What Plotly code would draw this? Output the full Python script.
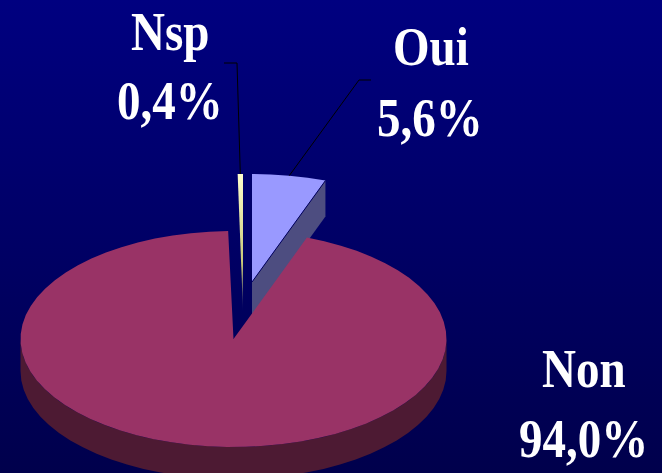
import numpy as np
import plotly.graph_objects as go

# Data
labels = ["Oui", "Non", "Nsp"]
values = [5.6, 94.0, 0.4]

# Drawing set-up (pixel-like axes of the 662x473 page)
W, H = 662, 473
cx, cy, rx, ry = 233.5, 339.0, 213.0, 108.0
start = 0.0
explode = {"Oui": (18.5, -57.0), "Non": (0.0, 0.0), "Nsp": (9.5, -57.0)}
thick = {"Oui": 36.0, "Non": 32.0, "Nsp": 30.0}
top_col = {"Oui": "#9999ff", "Non": "#993366", "Nsp": "#ffffcc"}
wall_col = {"Oui": "#4d4d80", "Non": "#4d1a33"}
label_pos = {"Oui": (431, 46, 430, 117), "Non": (584, 368, 583, 438), "Nsp": (170, 31, 170, 100)}
elbows = {"Oui": [(359, 80), (371, 80)], "Nsp": [(237, 63), (224, 63)]}
STEP = 5.0


def arc(a0, a1, ox=0.0, oy=0.0):
    """Clockwise angles from 12 o'clock, in degrees, to points of the ellipse."""
    n = max(2, int(abs(a1 - a0) / STEP) + 1)
    t = np.radians(np.linspace(a0, a1, n))
    return cx + ox + rx * np.sin(t), cy + oy - ry * np.cos(t)


# Slice angles from the values
total = sum(values)
spans = {}
a = start
for lab, v in zip(labels, values):
    spans[lab] = (a, a + 360 * v / total)
    a += 360 * v / total

fig = go.Figure()

# Background gradient
fig.add_trace(go.Scatter(
    x=[0, W, W, 0, 0], y=[0, 0, H, H, 0], mode="lines", line=dict(width=0),
    fill="toself",
    fillgradient=dict(type="vertical", colorscale=[[0, "#00004c"], [1, "#000080"]]),
    hoverinfo="skip", showlegend=False))

# Oui: wall then top
a0, a1 = spans["Oui"]
ox, oy = explode["Oui"]
ax0, ay0 = cx + ox, cy + oy
ex, ey = arc(a1, a1, ox, oy)
t = thick["Oui"]
fig.add_trace(go.Scatter(
    x=[ax0, ex[0], ex[0], ax0, ax0], y=[ay0, ey[0], ey[0] + t, ay0 + t, ay0],
    mode="lines", line=dict(width=0), fill="toself", fillcolor=wall_col["Oui"],
    hoverinfo="skip", showlegend=False))
xs, ys = arc(a0, a1, ox, oy)
fig.add_trace(go.Scatter(
    x=[ax0, *xs, ax0], y=[ay0, *ys, ay0], mode="lines", line=dict(width=0),
    fill="toself", fillcolor=top_col["Oui"], name="Oui", hoverinfo="name", showlegend=False))
fig.add_trace(go.Scatter(
    x=[ax0, ex[0]], y=[ay0, ey[0]], mode="lines", line=dict(color="#00005a", width=1),
    hoverinfo="skip", showlegend=False))

# Nsp: thin fading sliver
a0, a1 = spans["Nsp"]
ox, oy = explode["Nsp"]
xs, ys = arc(a0, a1, ox, oy)
fig.add_trace(go.Scatter(
    x=[*xs, cx + ox, xs[0]], y=[*ys, cy + oy + thick["Nsp"], ys[0]], mode="lines",
    line=dict(width=0), fill="toself",
    fillgradient=dict(type="vertical",
                      colorscale=[[0, "#000066"], [0.35, "#c8c878"], [1, top_col["Nsp"]]]),
    name="Nsp", hoverinfo="name", showlegend=False))

# Non: wall then top
a0, a1 = spans["Non"]
xs, ys = arc(90, 270)
t = thick["Non"]
fig.add_trace(go.Scatter(
    x=[*xs, *xs[::-1], xs[0]], y=[*ys, *(ys[::-1] + t), ys[0]], mode="lines",
    line=dict(width=0), fill="toself", fillcolor=wall_col["Non"],
    hoverinfo="skip", showlegend=False))
xs, ys = arc(a0, a1)
fig.add_trace(go.Scatter(
    x=[cx, *xs, cx], y=[cy, *ys, cy], mode="lines", line=dict(width=0),
    fill="toself", fillcolor=top_col["Non"], name="Non", hoverinfo="name", showlegend=False))

# Leader lines
for lab in ("Oui", "Nsp"):
    a0, a1 = spans[lab]
    ox, oy = explode[lab]
    mx, my = arc((a0 + a1) / 2, (a0 + a1) / 2, ox, oy)
    fig.add_trace(go.Scatter(
        x=[mx[0]] + [p[0] for p in elbows[lab]], y=[my[0]] + [p[1] for p in elbows[lab]],
        mode="lines", line=dict(color="#000000", width=1),
        hoverinfo="skip", showlegend=False))

# Labels
annotations = []
for lab, v in zip(labels, values):
    x1, y1, x2, y2 = label_pos[lab]
    pct = f"{v:.1f}".replace(".", ",") + "%"
    for txt, x, y in ((lab, x1, y1), (pct, x2, y2)):
        annotations.append(dict(
            x=x, y=y, xref="x", yref="y", text=f"<b>{txt}</b>", showarrow=False,
            xanchor="center", yanchor="middle",
            font=dict(family="Liberation Serif", size=47, color="white")))

fig.update_layout(
    width=W, height=H, margin=dict(l=0, r=0, t=0, b=0), showlegend=False,
    paper_bgcolor="#000066", plot_bgcolor="#000066",
    xaxis=dict(range=[0, W], visible=False, fixedrange=True),
    yaxis=dict(range=[H, 0], visible=False, fixedrange=True),
    annotations=annotations)

# The reference's lettering is stretched vertically; the text stays real text.
stretch = """
document.body.style.margin='0';
document.querySelectorAll('.annotation-text').forEach(function (t) {
  t.style.transformBox = 'fill-box';
  t.style.transformOrigin = 'center';
  t.style.transform = 'scaleY(1.16)';
});
"""
fig.write_html("out.html", config={"displayModeBar": False}, post_script=stretch)
